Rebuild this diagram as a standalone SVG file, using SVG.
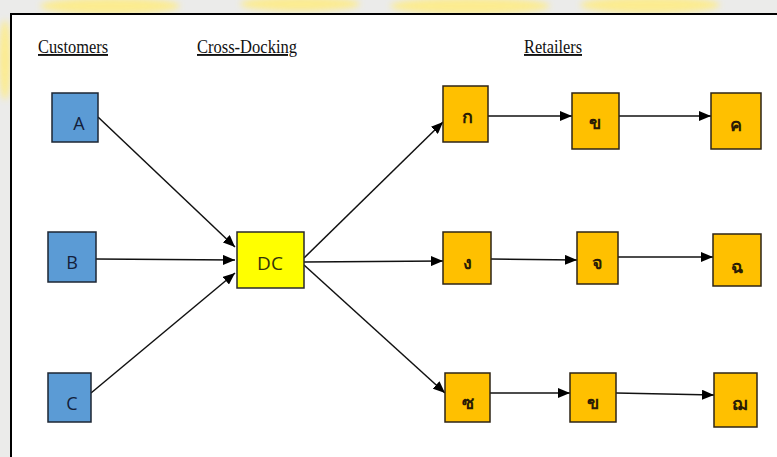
<svg xmlns="http://www.w3.org/2000/svg" width="777" height="457" viewBox="0 0 777 457">
  <defs>
    <marker id="arrow" viewBox="0 0 12 10" refX="12" refY="5" markerWidth="12" markerHeight="10" markerUnits="userSpaceOnUse" orient="auto">
      <path d="M0,0 L12,5 L0,10 z" fill="#000"/>
    </marker>
    <filter id="soft" x="-20%" y="-50%" width="140%" height="200%">
      <feGaussianBlur stdDeviation="3"/>
    </filter>
  </defs>
  <style>
    .head { font-family: "Liberation Serif", "Times New Roman", serif; font-size: 19px; fill: #111; text-decoration: underline; }
    .cust rect { fill: #5b9bd5; stroke: #1c2633; stroke-width: 1.5; }
    .cust text { font-family: "Open Sans", "Liberation Sans", sans-serif; font-size: 18px; fill: #13203a; text-anchor: middle; }
    .dc rect { fill: #ffff00; stroke: #2a2a2a; stroke-width: 1.5; }
    .dc text { font-family: "Open Sans", "Liberation Sans", sans-serif; font-size: 19px; fill: #33330a; text-anchor: middle; }
    .ret rect { fill: #ffc000; stroke: #2e2416; stroke-width: 1.5; }
    .ret text { font-family: "Noto Sans", "DejaVu Sans", sans-serif; font-size: 18px; font-weight: bold; fill: #2a1c05; text-anchor: middle; }
    .edges line { stroke: #111; stroke-width: 1.5; marker-end: url(#arrow); }
  </style>

  <!-- page background and faint top band -->
  <rect x="0" y="0" width="777" height="457" fill="#ebebea"/>
  <g filter="url(#soft)" fill="#ffec80" opacity="0.85">
    <ellipse cx="110" cy="6" rx="70" ry="8"/>
    <ellipse cx="300" cy="4" rx="60" ry="7"/>
    <ellipse cx="470" cy="6" rx="80" ry="8"/>
    <ellipse cx="650" cy="5" rx="70" ry="8"/>
    <ellipse cx="5" cy="60" rx="6" ry="40"/>
  </g>

  <!-- frame -->
  <rect x="11" y="14" width="780" height="460" fill="#fff" stroke="#000" stroke-width="2"/>

  <!-- column headings -->
  <text class="head" x="38" y="53" textLength="70" lengthAdjust="spacingAndGlyphs">Customers</text>
  <text class="head" x="197" y="53" textLength="100" lengthAdjust="spacingAndGlyphs">Cross-Docking</text>
  <text class="head" x="524" y="53" textLength="58" lengthAdjust="spacingAndGlyphs">Retailers</text>

  <!-- connectors -->
  <g class="edges">
    <line x1="98" y1="117" x2="235" y2="247"/>
    <line x1="96" y1="259" x2="235" y2="260"/>
    <line x1="91" y1="393" x2="235" y2="273"/>
    <line x1="304" y1="258" x2="443" y2="122"/>
    <line x1="304" y1="262" x2="443" y2="261"/>
    <line x1="304" y1="265" x2="445" y2="393"/>
    <line x1="488" y1="116" x2="572" y2="116"/>
    <line x1="619" y1="116" x2="711" y2="116"/>
    <line x1="491" y1="259" x2="577" y2="260"/>
    <line x1="618" y1="257" x2="713" y2="257"/>
    <line x1="490" y1="393" x2="570" y2="393"/>
    <line x1="616" y1="393" x2="714" y2="395"/>
  </g>

  <!-- customers -->
  <g id="node-A" class="cust"><rect x="52" y="93" width="46" height="49"/><text x="79" y="130">A</text></g>
  <g id="node-B" class="cust"><rect x="48" y="232" width="48" height="50"/><text x="72" y="269">B</text></g>
  <g id="node-C" class="cust"><rect x="48" y="373" width="43" height="49"/><text x="72" y="410">C</text></g>

  <!-- cross-docking centre -->
  <g id="node-DC" class="dc"><rect x="237" y="232" width="67" height="56"/><text x="270" y="270">DC</text></g>

  <!-- retailers -->
  <g id="node-ko" class="ret"><rect x="443" y="86" width="45" height="56"/><text x="467" y="123">ก</text></g>
  <g id="node-kho1" class="ret"><rect x="572" y="93" width="47" height="56"/><text x="595" y="129">ข</text></g>
  <g id="node-kho-khon" class="ret"><rect x="711" y="93" width="50" height="56"/><text x="736" y="131">ค</text></g>
  <g id="node-ngo" class="ret"><rect x="443" y="232" width="48" height="52"/><text x="467" y="269">ง</text></g>
  <g id="node-cho" class="ret"><rect x="577" y="232" width="41" height="52"/><text x="597" y="269">จ</text></g>
  <g id="node-chi" class="ret"><rect x="713" y="234" width="48" height="52"/><text x="737" y="273">ฉ</text></g>
  <g id="node-so" class="ret"><rect x="445" y="373" width="45" height="49"/><text x="468" y="409">ซ</text></g>
  <g id="node-kho2" class="ret"><rect x="570" y="373" width="46" height="49"/><text x="593" y="409">ข</text></g>
  <g id="node-cho-choe" class="ret"><rect x="714" y="373" width="43" height="54"/><text x="739" y="410">ฌ</text></g>
</svg>
